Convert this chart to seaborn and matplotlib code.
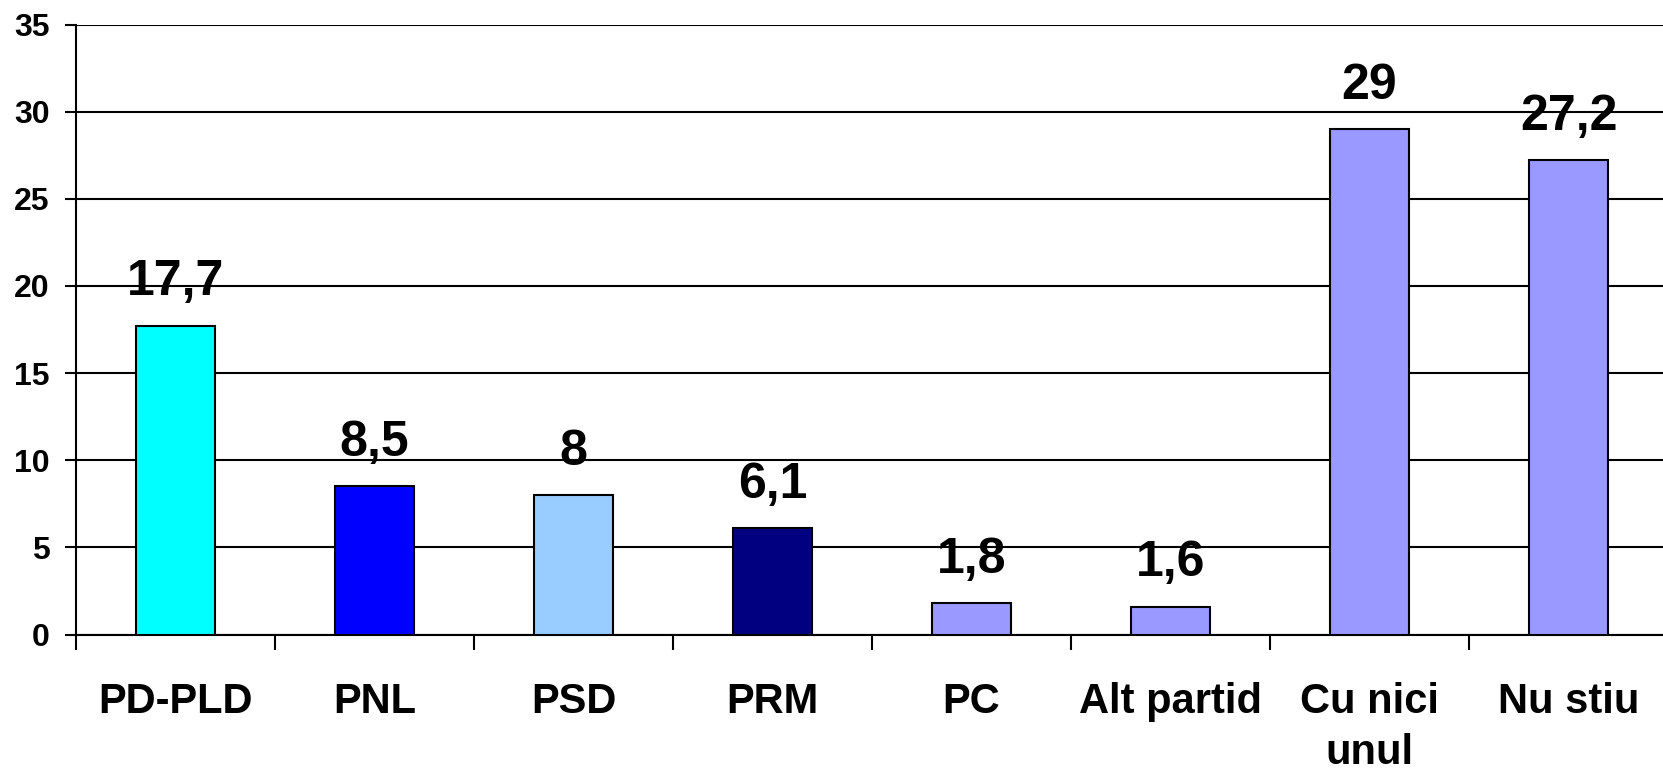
import matplotlib
matplotlib.use("Agg")
import matplotlib.pyplot as plt
import numpy as np
import pandas as pd
import seaborn as sns

categories = ["PD-PLD", "PNL", "PSD", "PRM", "PC", "Alt partid", "Cu nici\nunul", "Nu stiu"]
values = [17.7, 8.5, 8.0, 6.1, 1.8, 1.6, 29.0, 27.2]
value_labels = ["17,7", "8,5", "8", "6,1", "1,8", "1,6", "29", "27,2"]
colors = ["#00FFFF", "#0000FF", "#99CCFF", "#000080", "#9999FF", "#9999FF", "#9999FF", "#9999FF"]
y_ticks = [0, 5, 10, 15, 20, 25, 30, 35]

sns.set_style("white")
plt.rcParams["font.family"] = ["Liberation Sans", "DejaVu Sans"]
plt.rcParams["font.weight"] = "bold"
plt.rcParams["text.color"] = "black"
plt.rcParams["xtick.labelcolor"] = "black"
plt.rcParams["ytick.labelcolor"] = "black"

df = pd.DataFrame({"cat": categories, "val": values})

fig = plt.figure(figsize=(16.63, 7.7), dpi=100)
ax = fig.add_axes([76 / 1663, 135.5 / 770, 1592 / 1663, 610 / 770])

sns.barplot(data=df, x="cat", y="val", hue="cat", palette=colors, legend=False,
            width=0.4, edgecolor="black", linewidth=1.5, saturation=1, ax=ax, zorder=3)

ax.set_ylim(0, 35)
ax.set_xlim(-0.5, len(categories) - 0.5)
ax.set_yticks(y_ticks)
ax.set_yticklabels([str(t) for t in y_ticks], fontsize=23, fontweight="bold", color="black")
ax.yaxis.grid(True, color="black", linewidth=1.5, zorder=0)
ax.set_axisbelow(True)

ax.set_xticks(np.arange(len(categories)))
ax.set_xticklabels(categories, fontsize=30, fontweight="bold", linespacing=1.35, color="black")
ax.set_xticks(np.arange(len(categories) + 1) - 0.5, minor=True)
ax.tick_params(axis="x", which="major", length=0, pad=34)
ax.tick_params(axis="x", which="minor", direction="out", length=11, width=1.5, color="black", bottom=True)
ax.tick_params(axis="y", direction="out", length=8, width=1.5, color="black", pad=11, left=True)
ax.set_xlabel("")
ax.set_ylabel("")

for side in ["top", "right"]:
    ax.spines[side].set_visible(False)
for side in ["left", "bottom"]:
    ax.spines[side].set_color("black")
    ax.spines[side].set_linewidth(1.5)

for i, (v, lab) in enumerate(zip(values, value_labels)):
    ax.annotate(lab, (i, v), xytext=(0, 22), textcoords="offset points",
                ha="center", va="baseline", fontsize=36, fontweight="bold", color="black", zorder=5)

fig.savefig("out.png", dpi=100)
